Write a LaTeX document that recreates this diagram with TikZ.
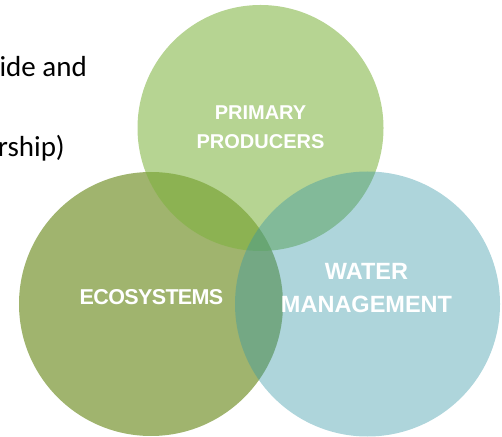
\documentclass[tikz,border=0pt]{standalone}
\usepackage{fontspec}
\usepackage{xcolor}
\usepackage{tikz}
\setmainfont{Carlito}
\newfontfamily\vennfont{Liberation Sans}
\definecolor{EcoOlive}{RGB}{160,180,110}
\definecolor{ProducerGreen}{RGB}{125,178,61}
\definecolor{WaterTeal}{RGB}{52,150,165}

\begin{document}
\begin{tikzpicture}[
x=1pt,y=1pt,
venn/.style={
circle,
inner sep=0pt,
draw=none
},
venntext/.style={
text=white,
align=center,
font=\vennfont\bfseries
},
bodytext/.style={
text=black,
inner sep=0pt,
font=\fontsize{29}{34}\selectfont
}
]
\useasboundingbox (0,0) rectangle (502,436);

% the three sets, back to front
\node[venn, fill=EcoOlive, minimum size=264] (eco) at (151,132) {};
\node[venn, fill=ProducerGreen, fill opacity=0.56, minimum size=246] (prod) at (260.5,308) {};
\node[venn, fill=WaterTeal, fill opacity=0.4, minimum size=265] (water) at (367.5,132) {};

% labels
\node[venntext, font=\vennfont\bfseries\fontsize{20}{29}\selectfont] (prodlbl) at (260.5,308.5) {PRIMARY\\PRODUCERS};
\node[venntext, font=\vennfont\bfseries\fontsize{21.5}{24}\selectfont] (ecolbl) at (151.5,139) {\addfontfeature{LetterSpace=-3}ECOSYSTEMS};
\node[venntext, font=\vennfont\bfseries\fontsize{23.5}{33}\selectfont] (waterlbl) at (366.5,147.5) {WATER\\MANAGEMENT};

% text running in from the left
\node[bodytext, anchor=base east] (line1) at (87,359) {ide and};
\node[bodytext, anchor=base east] (line2) at (65,279) {rship)};
\end{tikzpicture}
\end{document}
